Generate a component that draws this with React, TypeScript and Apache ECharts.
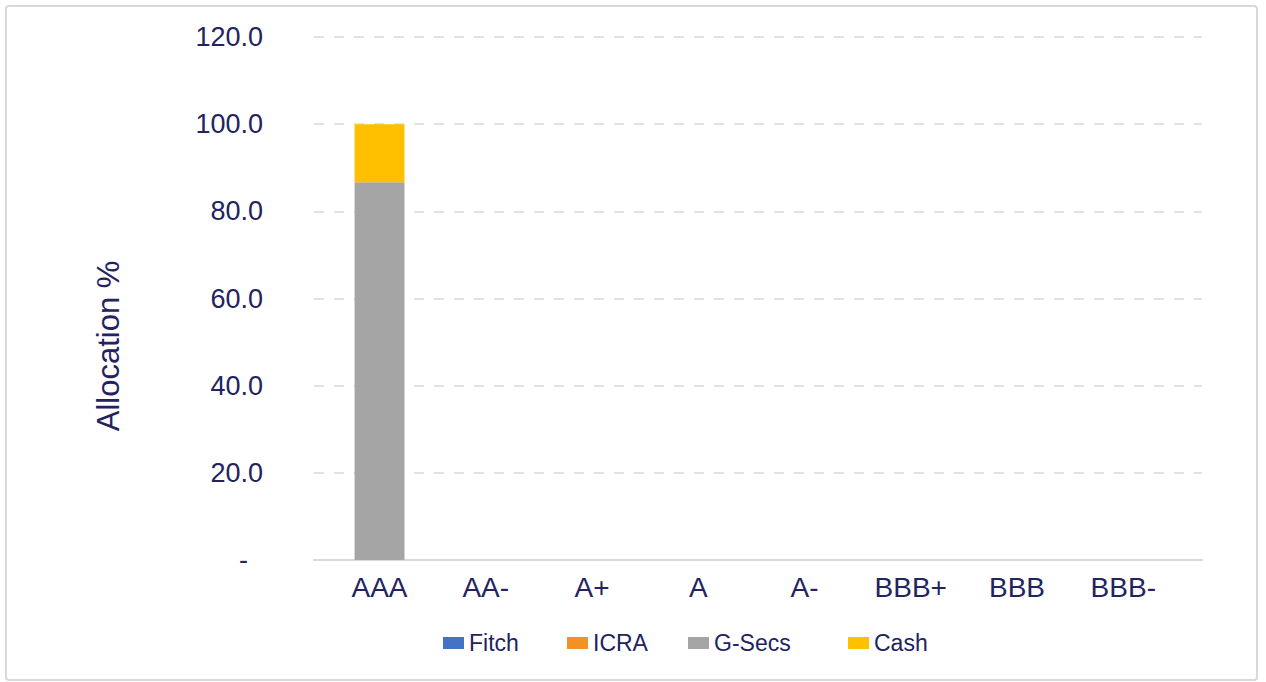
import React, { useEffect, useRef } from "react";
import * as echarts from "echarts";

const categories = ["AAA", "AA-", "A+", "A", "A-", "BBB+", "BBB", "BBB-"];
const fitch = [0, 0, 0, 0, 0, 0, 0, 0];
const icra = [0, 0, 0, 0, 0, 0, 0, 0];
const gSecs = [86.7, 0, 0, 0, 0, 0, 0, 0];
const cash = [13.3, 0, 0, 0, 0, 0, 0, 0];
const seriesNames = ["Fitch", "ICRA", "G-Secs", "Cash"];
const seriesColors = ["#4472C4", "#F39125", "#A5A5A5", "#FFC000"];
const legendLefts = [443, 567, 688, 848];
const yMin = 0;
const yMax = 120;
const yStep = 20;

const TEXT = "#22235F";
const FONT = "'Liberation Sans', Arial, Helvetica, sans-serif";

export default function App() {
  const ref = useRef<HTMLDivElement>(null);
  useEffect(() => {
    if (!ref.current) return;
    const chart = echarts.init(ref.current, null, { renderer: "svg" });
    const seriesData = [fitch, icra, gSecs, cash];
    chart.setOption({
      animation: false,
      backgroundColor: "#ffffff",
      textStyle: { fontFamily: FONT },
      graphic: [
        {
          type: "rect",
          shape: { x: 6, y: 6, width: 1251, height: 674, r: 3 },
          style: { fill: "none", stroke: "#D9D9D9", lineWidth: 2 },
          silent: true,
          z: -10,
        },
        {
          type: "text",
          x: 108,
          y: 346,
          rotation: Math.PI / 2,
          style: {
            text: "Allocation %",
            fill: TEXT,
            fontSize: 31,
            fontFamily: FONT,
            align: "center",
            verticalAlign: "middle",
          },
          silent: true,
        },
      ],
      grid: [
        { left: 314, right: 64, top: 37, bottom: 122, containLabel: false },
        { left: 326.4, right: 89.6, top: 37, bottom: 122, containLabel: false },
      ],
      legend: seriesNames.map((n, i) => ({
        data: [n],
        left: legendLefts[i],
        top: 631,
        padding: 0,
        itemWidth: 21,
        itemHeight: 12,
        icon: "rect",
        textStyle: { color: TEXT, fontSize: 23, fontFamily: FONT, lineHeight: 24 },
        selectedMode: false,
      })),
      xAxis: [
        {
          type: "category",
          gridIndex: 0,
          data: categories,
          boundaryGap: true,
          axisLine: { show: true, lineStyle: { color: "#D9D9D9", width: 2 } },
          axisTick: { show: false },
          axisLabel: { show: false },
        },
        {
          type: "category",
          gridIndex: 1,
          data: categories,
          boundaryGap: true,
          axisLine: { show: false },
          axisTick: { show: false },
          axisLabel: { color: TEXT, fontSize: 28, fontFamily: FONT, margin: 13, interval: 0 },
        },
      ],
      yAxis: [
        {
          type: "value",
          gridIndex: 0,
          min: yMin,
          max: yMax,
          interval: yStep,
          axisLine: { show: false },
          axisTick: { show: false },
          axisLabel: {
            color: TEXT,
            fontSize: 27,
            fontFamily: FONT,
            margin: 51,
            formatter: (v: number) => (v === 0 ? "-  " : v.toFixed(1)),
          },
          splitLine: {
            show: true,
            lineStyle: { color: "#D9D9D9", width: 1.5, type: [10, 10] },
          },
        },
        {
          type: "value",
          gridIndex: 1,
          min: yMin,
          max: yMax,
          interval: yStep,
          show: false,
          splitLine: { show: false },
        },
      ],
      series: seriesNames.map((n, i) => ({
        name: n,
        type: "bar",
        stack: "total",
        xAxisIndex: 1,
        yAxisIndex: 1,
        data: seriesData[i],
        barWidth: "47%",
        itemStyle: { color: seriesColors[i] },
      })),
    });
    return () => chart.dispose();
  }, []);
  return (
    <div
      ref={ref}
      style={{ position: "fixed", left: 0, top: 0, width: 1266, height: 682 }}
    />
  );
}
